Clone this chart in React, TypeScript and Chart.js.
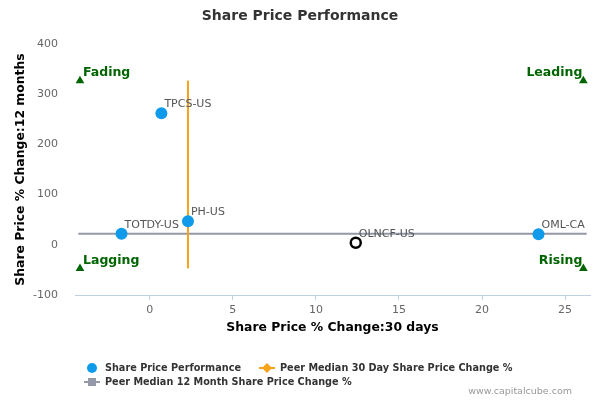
import { useEffect, useRef } from "react"
import { Chart, registerables } from "chart.js"

Chart.register(...registerables)

// company points
const companies = ["TPCS-US", "PH-US", "TOTDY-US", "OLNCF-US", "OML-CA"]
const change30d = [0.7, 2.3, -1.7, 12.4, 23.4]
const change12m = [262, 47, 22, 4, 21]
const focusCompany = "OLNCF-US"

// peer medians
const peerMedian30d = 2.3
const peerMedian30dSpan = [-47, 327]
const peerMedian12m = 22
const peerMedian12mSpan = [-4.3, 26.3]

// quadrant markers
const quadrantNames = ["Fading", "Leading", "Lagging", "Rising"]
const quadrantX = [-4.2, 26.1, -4.2, 26.1]
const quadrantY = [327, 327, -47, -47]

const xTicks = [0, 5, 10, 15, 20, 25]
const yTicks = [-100, 0, 100, 200, 300, 400]

const FONT = "'DejaVu Sans', Verdana, sans-serif"
const BLUE = "#0f9bea"
const ORANGE = "#f5a31a"
const GREY = "#9499a8"
const GREEN = "#006400"

const textPlugin = {
  id: "texts",
  afterDatasetsDraw(chart: any) {
    const { ctx, chartArea } = chart
    ctx.save()

    // point labels
    const pts = chart.getDatasetMeta(0).data
    ctx.font = `11px ${FONT}`
    ctx.fillStyle = "#555"
    ctx.textAlign = "left"
    ctx.textBaseline = "middle"
    pts.forEach((p: any, i: number) => {
      ctx.fillText(companies[i], p.x + 3, p.y - 9)
    })

    // quadrant labels
    const tri = chart.getDatasetMeta(3).data
    ctx.font = `bold 12.5px ${FONT}`
    ctx.fillStyle = GREEN
    tri.forEach((p: any, i: number) => {
      const left = i % 2 === 0
      ctx.textAlign = left ? "left" : "right"
      ctx.fillText(quadrantNames[i], left ? p.x + 3 : p.x - 1, p.y - 8)
    })

    // title
    ctx.fillStyle = "#333"
    ctx.font = `bold 14px ${FONT}`
    ctx.textAlign = "center"
    ctx.fillText("Share Price Performance", 300, 16)

    // axis titles
    ctx.fillStyle = "#000"
    ctx.font = `bold 12.4px ${FONT}`
    ctx.fillText("Share Price % Change:30 days", (chartArea.left + chartArea.right) / 2, 328)
    ctx.save()
    ctx.translate(21, (chartArea.top + chartArea.bottom) / 2)
    ctx.rotate(-Math.PI / 2)
    ctx.fillText("Share Price % Change:12 months", 0, 0)
    ctx.restore()

    // legend
    ctx.font = `bold 9.7px ${FONT}`
    ctx.textAlign = "left"
    ctx.beginPath()
    ctx.arc(92, 368, 5, 0, Math.PI * 2)
    ctx.fillStyle = BLUE
    ctx.fill()
    ctx.fillStyle = "#333"
    ctx.fillText("Share Price Performance", 105, 368)

    ctx.strokeStyle = ORANGE
    ctx.lineWidth = 2
    ctx.beginPath()
    ctx.moveTo(259, 368)
    ctx.lineTo(275, 368)
    ctx.stroke()
    ctx.fillStyle = ORANGE
    ctx.beginPath()
    ctx.moveTo(267, 363)
    ctx.lineTo(272, 368)
    ctx.lineTo(267, 373)
    ctx.lineTo(262, 368)
    ctx.closePath()
    ctx.fill()
    ctx.fillStyle = "#333"
    ctx.fillText("Peer Median 30 Day Share Price Change %", 280, 368)

    ctx.strokeStyle = GREY
    ctx.beginPath()
    ctx.moveTo(84, 382)
    ctx.lineTo(100, 382)
    ctx.stroke()
    ctx.fillStyle = GREY
    ctx.fillRect(88, 378, 8, 8)
    ctx.fillStyle = "#333"
    ctx.fillText("Peer Median 12 Month Share Price Change %", 105, 382)

    // credit
    ctx.font = `9.5px ${FONT}`
    ctx.fillStyle = "#999"
    ctx.textAlign = "right"
    ctx.fillText("www.capitalcube.com", 572, 392)

    ctx.restore()
  },
}

export default function App() {
  const chartRef = useRef<HTMLCanvasElement>(null)
  const chartInstance = useRef<Chart | null>(null)

  useEffect(() => {
    if (!chartRef.current) return
    if (chartInstance.current) chartInstance.current.destroy()

    const ctx = chartRef.current.getContext("2d")
    if (!ctx) return

    chartInstance.current = new Chart(ctx, {
      type: "scatter",
      data: {
        datasets: [
          {
            label: "Share Price Performance",
            data: companies.map((_, i) => ({ x: change30d[i], y: change12m[i] })),
            pointRadius: companies.map((c) => (c === focusCompany ? 5 : 6)),
            pointBackgroundColor: companies.map((c) => (c === focusCompany ? "#fff" : BLUE)),
            pointBorderColor: companies.map((c) => (c === focusCompany ? "#000" : BLUE)),
            pointBorderWidth: companies.map((c) => (c === focusCompany ? 2.5 : 0)),
            order: 0,
          },
          {
            label: "Peer Median 30 Day Share Price Change %",
            data: peerMedian30dSpan.map((y) => ({ x: peerMedian30d, y })),
            showLine: true,
            borderColor: ORANGE,
            borderWidth: 2,
            pointRadius: 0,
            order: 2,
          },
          {
            label: "Peer Median 12 Month Share Price Change %",
            data: peerMedian12mSpan.map((x) => ({ x, y: peerMedian12m })),
            showLine: true,
            borderColor: GREY,
            borderWidth: 2,
            pointRadius: 0,
            order: 3,
          },
          {
            label: "quadrants",
            data: quadrantX.map((x, i) => ({ x, y: quadrantY[i] })),
            pointStyle: "triangle",
            pointRadius: 5,
            pointBackgroundColor: GREEN,
            pointBorderColor: GREEN,
            pointBorderWidth: 0,
            order: 1,
          },
        ],
      },
      options: {
        animation: false,
        responsive: true,
        maintainAspectRatio: false,
        layout: { padding: { top: 44, right: 10, left: 0, bottom: 0 } },
        plugins: {
          legend: { display: false },
          tooltip: { enabled: false },
        },
        scales: {
          x: {
            type: "linear",
            min: -4.5,
            max: 26.5,
            afterFit: (scale: any) => {
              scale.height = 105
            },
            afterBuildTicks: (scale: any) => {
              scale.ticks = xTicks.map((value) => ({ value }))
            },
            grid: {
              drawOnChartArea: false,
              drawTicks: true,
              tickLength: 5,
              color: "#c0d0e0",
            },
            border: { color: "#c0d0e0", width: 1 },
            ticks: {
              padding: 4,
              color: "#666",
              font: { family: FONT, size: 11 },
            },
          },
          y: {
            type: "linear",
            min: -100,
            max: 400,
            afterFit: (scale: any) => {
              scale.width = 75
            },
            afterBuildTicks: (scale: any) => {
              scale.ticks = yTicks.map((value) => ({ value }))
            },
            grid: { display: false, drawTicks: false },
            border: { display: false },
            ticks: {
              padding: 17,
              color: "#666",
              font: { family: FONT, size: 11 },
            },
          },
        },
      },
      plugins: [textPlugin],
    })

    return () => {
      if (chartInstance.current) {
        chartInstance.current.destroy()
        chartInstance.current = null
      }
    }
  }, [])

  return (
    <div style={{ position: "fixed", left: 0, top: 0, width: 600, height: 400, background: "#fff" }}>
      <canvas ref={chartRef} />
    </div>
  )
}
